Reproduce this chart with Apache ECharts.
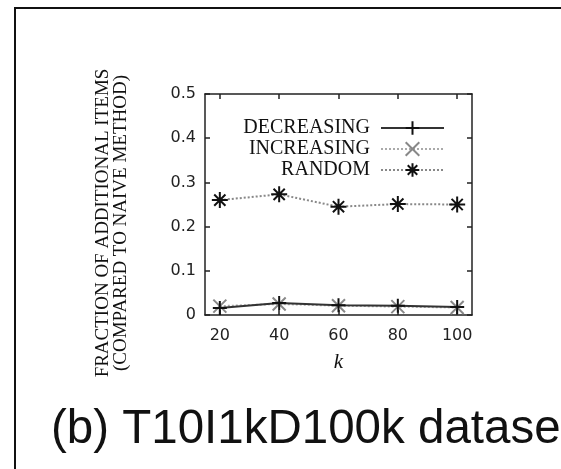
<!DOCTYPE html>
<html>
<head>
<meta charset="utf-8">
<script src="https://cdn.jsdelivr.net/npm/echarts@6/dist/echarts.min.js"></script>
<style>
html,body{margin:0;padding:0;background:#fff;}
#chart{width:561px;height:469px;}
</style>
</head>
<body>
<div id="chart"></div>
<script>
// ---- data ----
var kValues = [20, 40, 60, 80, 100];
var xTicks = [20, 40, 60, 80, 100];
var yTicks = [0, 0.1, 0.2, 0.3, 0.4, 0.5];
var decreasing = [0.016, 0.027, 0.022, 0.021, 0.018];
var increasing = [0.020, 0.025, 0.021, 0.019, 0.017];
var random = [0.260, 0.273, 0.245, 0.251, 0.250];
var seriesNames = ['DECREASING', 'INCREASING', 'RANDOM'];
var yLabelLines = ['FRACTION OF ADDITIONAL ITEMS', '(COMPARED TO NAIVE METHOD)'];
var xName = 'k';
var caption = '(b) T10I1kD100k dataset';

function pairs(vals) {
  return kValues.map(function (k, i) { return [k, vals[i]]; });
}

var PLUS = 'path://M0,5L10,5M5,0L5,10';
var CROSS = 'path://M0,0L10,10M10,0L0,10';
var STAR = 'path://M0,5L10,5M5,0L5,10M1.5,1.5L8.5,8.5M8.5,1.5L1.5,8.5';

var chart = echarts.init(document.getElementById('chart'));
var axisLineStyle = { color: '#222', width: 1.5 };
var tickStyle = { color: '#222', width: 1.5 };
var tickFont = { fontFamily: 'DejaVu Sans', fontSize: 16, color: '#222' };

var option = {
  backgroundColor: '#fff',
  animation: false,
  grid: { left: 205, right: 89, top: 94, bottom: 154, containLabel: false },
  legend: {
    data: seriesNames,
    orient: 'vertical',
    align: 'right',
    right: 116,
    top: 118,
    padding: 0,
    itemGap: 1,
    itemWidth: 63,
    itemHeight: 17,
    textStyle: { fontFamily: 'Liberation Serif', fontSize: 20, color: '#111', padding: [0, 6, 0, 0] }
  },
  xAxis: [{
    type: 'value', min: 15, max: 105, position: 'bottom',
    axisLine: { show: true, onZero: false, lineStyle: axisLineStyle },
    axisTick: { show: true, inside: true, length: 5, lineStyle: tickStyle, customValues: xTicks },
    axisLabel: Object.assign({ margin: 13, customValues: xTicks }, tickFont),
    splitLine: { show: false },
    name: xName, nameLocation: 'middle', nameGap: 37,
    nameTextStyle: { fontFamily: 'Liberation Serif', fontStyle: 'italic', fontSize: 21, color: '#111' }
  }, {
    type: 'value', min: 15, max: 105, position: 'top',
    axisLine: { show: true, onZero: false, lineStyle: axisLineStyle },
    axisTick: { show: true, inside: true, length: 5, lineStyle: tickStyle, customValues: xTicks },
    axisLabel: { show: false },
    splitLine: { show: false }
  }],
  yAxis: [{
    type: 'value', min: 0, max: 0.5, interval: 0.1, position: 'left',
    axisLine: { show: true, onZero: false, lineStyle: axisLineStyle },
    axisTick: { show: true, inside: true, length: 5, lineStyle: tickStyle },
    axisLabel: Object.assign({ margin: 9, customValues: yTicks }, tickFont),
    splitLine: { show: false }
  }, {
    type: 'value', min: 0, max: 0.5, interval: 0.1, position: 'right',
    axisLine: { show: true, onZero: false, lineStyle: axisLineStyle },
    axisTick: { show: true, inside: true, length: 5, lineStyle: tickStyle },
    axisLabel: { show: false },
    splitLine: { show: false }
  }],
  series: [{
    name: seriesNames[0], type: 'line', data: pairs(decreasing), z: 4,
    symbol: PLUS, symbolSize: 14, showSymbol: true,
    lineStyle: { color: '#333', width: 2, type: 'solid' },
    itemStyle: { color: '#111', borderColor: '#111', borderWidth: 2 }
  }, {
    name: seriesNames[1], type: 'line', data: pairs(increasing), z: 3,
    symbol: CROSS, symbolSize: 13, showSymbol: true,
    lineStyle: { color: '#aaa', width: 2, type: 'dotted' },
    itemStyle: { color: '#888', borderColor: '#888', borderWidth: 2 }
  }, {
    name: seriesNames[2], type: 'line', data: pairs(random), z: 2,
    symbol: STAR, symbolSize: 16, showSymbol: true,
    lineStyle: { color: '#888', width: 2, type: 'dotted' },
    itemStyle: { color: '#111', borderColor: '#111', borderWidth: 2 }
  }],
  graphic: [{
    type: 'rect', silent: true,
    shape: { x: 15, y: 8, width: 620, height: 500 },
    style: { fill: 'none', stroke: '#111', lineWidth: 2 }
  }, {
    type: 'text', silent: true, x: 112, y: 223, rotation: Math.PI / 2,
    style: {
      text: yLabelLines.join('\n'), align: 'center', verticalAlign: 'middle',
      fontFamily: 'Liberation Serif', fontSize: 19, lineHeight: 18, fill: '#111'
    }
  }, {
    type: 'text', silent: true, x: 51, y: 430,
    style: {
      text: caption, align: 'left', verticalAlign: 'middle',
      fontFamily: 'Liberation Sans', fontSize: 47.5, fill: '#111'
    }
  }]
};
chart.setOption(option);
</script>
</body>
</html>
